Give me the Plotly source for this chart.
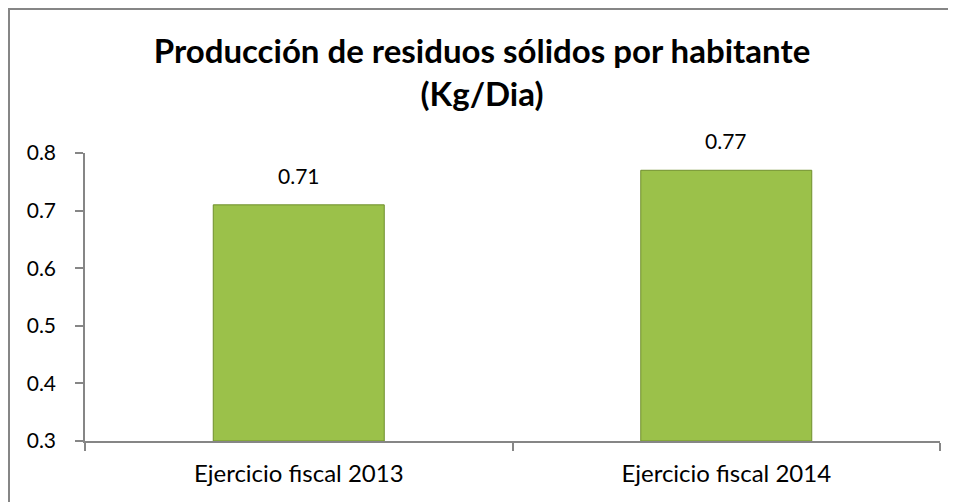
import plotly.graph_objects as go

categorias = ["Ejercicio fiscal 2013", "Ejercicio fiscal 2014"]
valores = [0.71, 0.77]
titulo = "Producción de residuos sólidos por habitante<br>(Kg/Dia)"
base = 0.3

fuente = "Lato, Liberation Sans, Arial, sans-serif"
gris = "#868686"

fig = go.Figure()
# bars start at the axis floor (0.3), so the drawn height is value - base
fig.add_trace(go.Bar(
    x=categorias,
    y=[v - base for v in valores],
    base=base,
    marker=dict(color="#9BC14A", line=dict(color="#6F8F2C", width=1)),
    width=0.4,
    customdata=valores,
    hovertemplate="%{x}: %{customdata:.2f}<extra></extra>",
))

for cat, val in zip(categorias, valores):
    fig.add_annotation(x=cat, y=val, text=f"{val:.2f}", showarrow=False,
                       yanchor="bottom", yshift=15,
                       font=dict(size=21, color="black", family=fuente))

# page body has an 8px margin, figure is sized to fit the window
fig.update_layout(
    width=948, height=494,
    margin=dict(l=77, r=16, t=145, b=61),
    paper_bgcolor="white", plot_bgcolor="white",
    showlegend=False,
    font=dict(family=fuente, size=21, color="black"),
    title=dict(text=titulo, x=0.5, xanchor="center", y=0.889, yanchor="top",
               font=dict(size=33, family=fuente, color="black", weight="bold")),
    shapes=[dict(type="rect", xref="paper", yref="paper",
                 x0=-0.0889, x1=1.2, y0=-0.5, y1=1.5,
                 line=dict(color=gris, width=2), fillcolor="rgba(0,0,0,0)")],
)
fig.update_yaxes(range=[0.3, 0.8], dtick=0.1, tickformat=".1f",
                 showline=True, linecolor=gris, linewidth=1.5,
                 ticks="outside", ticklen=8, tickcolor=gris, tickwidth=1.5,
                 showgrid=False, zeroline=False, ticklabelstandoff=15,
                 tickfont=dict(size=21))
fig.update_xaxes(showline=True, linecolor=gris, linewidth=1.5,
                 ticks="outside", ticklen=8, tickcolor=gris, tickwidth=1.5,
                 tickson="boundaries", showgrid=False, ticklabelstandoff=10,
                 tickfont=dict(size=24))

fig.write_html("out.html")
